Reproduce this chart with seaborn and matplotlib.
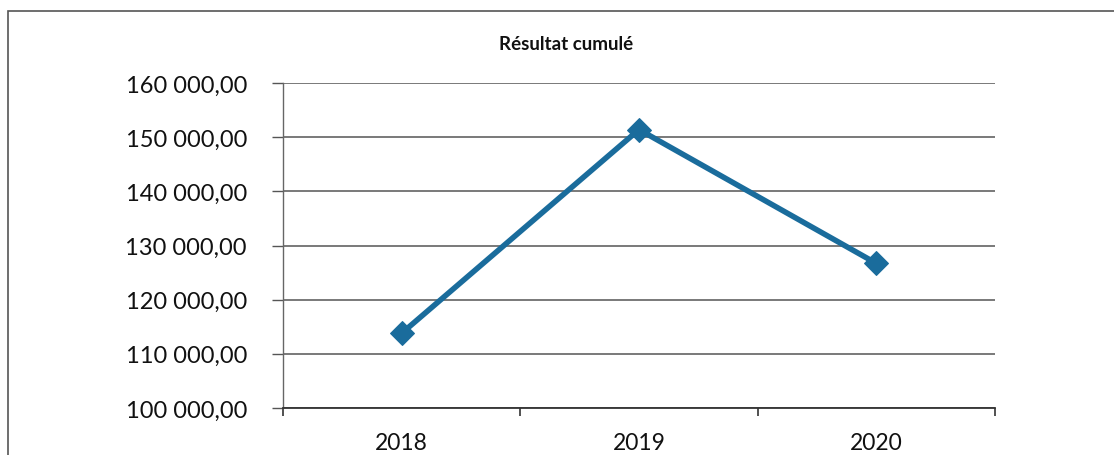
import matplotlib
matplotlib.use("Agg")
import matplotlib.pyplot as plt
import seaborn as sns
import pandas as pd
from matplotlib.ticker import FuncFormatter, FixedLocator, NullFormatter
from matplotlib.patches import Rectangle

# Data
years = ["2018", "2019", "2020"]
resultat = [113800, 151400, 126700]
y_ticks = [100000, 110000, 120000, 130000, 140000, 150000, 160000]
title = "Résultat cumulé"

df = pd.DataFrame({"annee": years, "resultat": resultat})

sns.set_theme(style="white")
plt.rcParams["font.family"] = ["Lato", "DejaVu Sans"]

W, H = 1114, 456
fig = plt.figure(figsize=(W / 100, H / 100), dpi=100)
ax = fig.add_axes([283 / W, (H - 409) / H, (995 - 283) / W, (409 - 84) / H])

line_color = "#1a6c9c"
sns.lineplot(data=df, x="annee", y="resultat", ax=ax, color=line_color,
             linewidth=4.0, marker="D", markersize=12, markeredgecolor=line_color,
             sort=False)

ax.set_xlim(-0.5, 2.5)
ax.set_ylim(y_ticks[0], y_ticks[-1])
ax.set_yticks(y_ticks)
ax.yaxis.set_major_formatter(FuncFormatter(
    lambda v, p: f"{v:,.2f}".replace(",", " ").replace(".", ",")))
ax.yaxis.grid(True, color="#555555", linewidth=1.1)
ax.set_axisbelow(True)

# category labels centred, tick marks on category boundaries
ax.set_xticks([0, 1, 2])
ax.set_xticklabels(years)
ax.xaxis.set_minor_locator(FixedLocator([-0.5, 0.5, 1.5, 2.5]))
ax.xaxis.set_minor_formatter(NullFormatter())
ax.tick_params(axis="x", which="major", length=0, pad=17, labelsize=16.5, colors="#111111")
ax.tick_params(axis="x", which="minor", length=6, width=1.2, direction="out",
               bottom=True, color="#333333")
ax.tick_params(axis="y", which="major", length=8, width=1.0, direction="out",
               left=True, pad=18, labelsize=17, colors="#111111", color="#555555")

ax.set_xlabel("")
ax.set_ylabel("")
for side in ["top", "right"]:
    ax.spines[side].set_visible(False)
ax.spines["left"].set_color("#666666")
ax.spines["left"].set_linewidth(1.0)
ax.spines["bottom"].set_color("#333333")
ax.spines["bottom"].set_linewidth(1.3)

fig.text(566 / W, 1 - 45 / H, title, ha="center", va="center",
         fontsize=13.5, fontweight="bold", color="#111111")

# chart frame
fig.patches.append(Rectangle((8 / W, -0.05), 1.05, 1 - 12 / H + 0.05,
                             transform=fig.transFigure, fill=False,
                             edgecolor="#555555", linewidth=1.2))

fig.savefig("out.png", dpi=100)
